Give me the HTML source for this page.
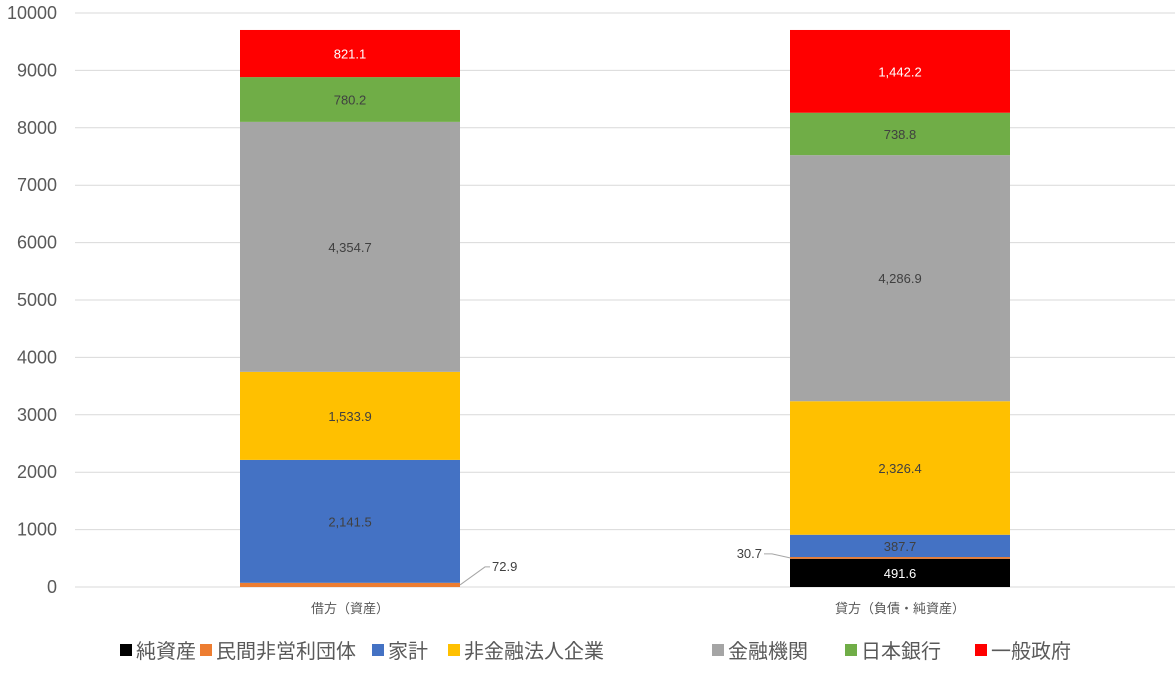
<!DOCTYPE html>
<html><head><meta charset="utf-8"><style>
body{margin:0;background:#fff;width:1175px;height:674px;overflow:hidden;font-family:"Liberation Sans","Noto Sans CJK JP",sans-serif}
</style></head><body>
<svg id="chart" width="1175" height="674" xmlns="http://www.w3.org/2000/svg"></svg>
<script>
const categories = ["借方（資産）", "貸方（負債・純資産）"];
const seriesNames = ["純資産", "民間非営利団体", "家計", "非金融法人企業", "金融機関", "日本銀行", "一般政府"];
const seriesColors = ["#000000", "#ED7D31", "#4472C4", "#FFC000", "#A5A5A5", "#70AD47", "#FF0000"];
const labelColors = ["#fff", "#404040", "#404040", "#404040", "#404040", "#404040", "#fff"];
const v_junshisan = [0, 491.6];
const v_minkan = [72.9, 30.7];
const v_kakei = [2141.5, 387.7];
const v_hikinyu = [1533.9, 2326.4];
const v_kinyu = [4354.7, 4286.9];
const v_nichigin = [780.2, 738.8];
const v_seifu = [821.1, 1442.2];
const seriesValues = [v_junshisan, v_minkan, v_kakei, v_hikinyu, v_kinyu, v_nichigin, v_seifu];
const yTicks = [0,1000,2000,3000,4000,5000,6000,7000,8000,9000,10000];

const NS = "http://www.w3.org/2000/svg";
const svg = document.getElementById('chart');
const x0 = 75, x1 = 1175, yBase = 587, yTop = 13, yMax = 10000;
const y = v => yBase - v / yMax * (yBase - yTop);
const bandW = (x1 - x0) / categories.length;
const barW = 220;
const xc = i => x0 + bandW * (i + 0.5);
function mk(tag, attrs, parent) {
  const e = document.createElementNS(NS, tag);
  for (const k in attrs) e.setAttribute(k, attrs[k]);
  (parent || svg).appendChild(e);
  return e;
}
const fmt = v => v.toLocaleString('en-US', {minimumFractionDigits: 1, maximumFractionDigits: 1});

yTicks.forEach(t => {
  const l = mk('line', {x1: x0, x2: x1, y1: y(t), y2: y(t), stroke: '#d9d9d9', 'stroke-width': 1});
  
  
  const tx = mk('text', {x: 57, y: y(t) + 6, 'text-anchor': 'end', 'font-size': 18, fill: '#595959'});
  tx.textContent = t;
  
  
});

categories.forEach((c, i) => {
  let cum = 0;
  const left = xc(i) - barW / 2;
  seriesValues.forEach((vals, s) => {
    const v = vals[i];
    if (v <= 0) { return; }
    const r = mk('rect', {x: left, y: y(cum + v), width: barW, height: y(cum) - y(cum + v), fill: seriesColors[s]});
    
    
    const mid = y(cum + v / 2);
    let tx;
    if (v < 100) {
      if (i === 0) {
        mk('polyline', {points: `${left + barW},${mid} ${left + barW + 25},${mid - 18} ${left + barW + 30},${mid - 18}`, fill: 'none', stroke: '#a6a6a6'});
        tx = mk('text', {x: left + barW + 32, y: mid - 14, 'font-size': 13, fill: '#404040'});
      } else {
        mk('polyline', {points: `${left},${mid} ${left - 18},${mid - 4} ${left - 26},${mid - 4}`, fill: 'none', stroke: '#a6a6a6'});
        tx = mk('text', {x: left - 28, y: mid, 'text-anchor': 'end', 'font-size': 13, fill: '#404040'});
      }
    } else {
      tx = mk('text', {x: xc(i), y: mid + 5, 'text-anchor': 'middle', 'font-size': 13, fill: labelColors[s]});
    }
    tx.textContent = fmt(v);
    
    
    cum += v;
  });
  const cl = mk('text', {x: xc(i), y: 613, 'text-anchor': 'middle', 'font-size': 13, fill: '#595959'});
  cl.textContent = c;
  
  
});

const legendX = [120, 200, 372, 448, 712, 845, 975];
seriesNames.forEach((n, s) => {
  const g = mk('g', {});
  
  
  mk('rect', {x: legendX[s], y: 644, width: 12, height: 12, fill: seriesColors[s]}, g);
  const t = mk('text', {x: legendX[s] + 16, y: 658, 'font-size': 20, fill: '#595959'}, g);
  t.textContent = n;
});
</script>
</body></html>
